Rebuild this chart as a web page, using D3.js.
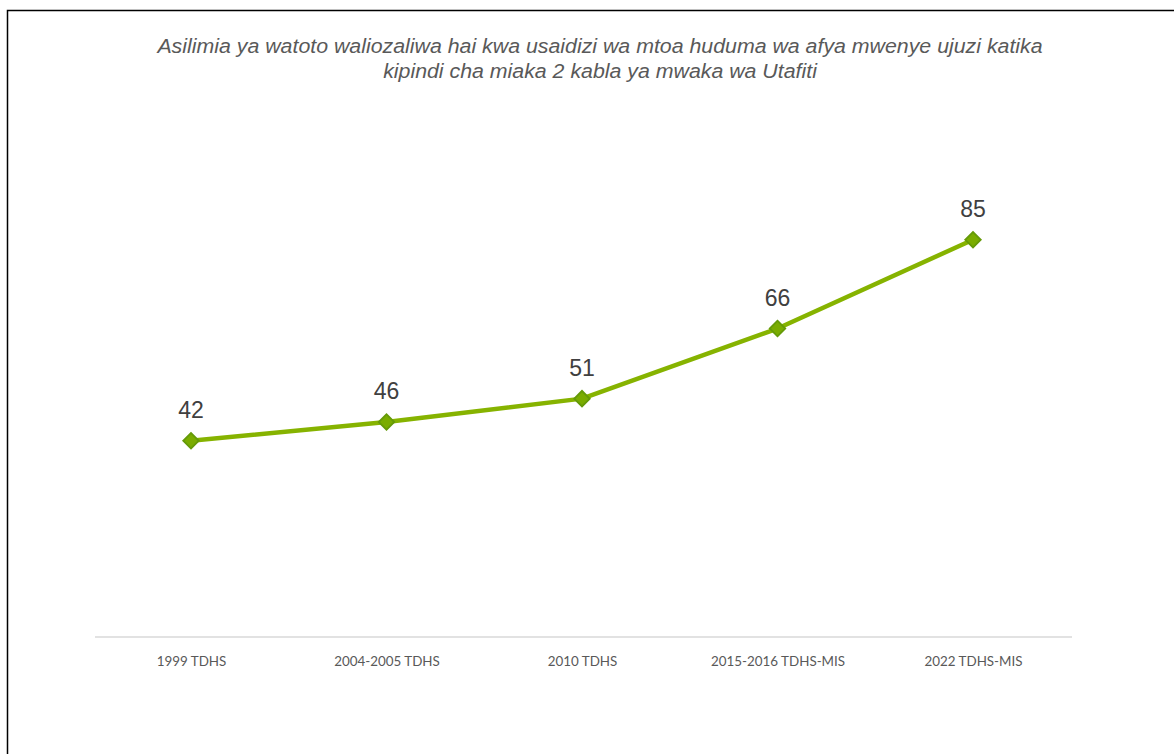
<!DOCTYPE html>
<html><head><meta charset="utf-8">
<script src="https://cdn.jsdelivr.net/npm/d3@7"></script>
<style>body{margin:0;background:#fff}svg{display:block}</style>
</head><body>
<svg id="c" width="1174" height="754"></svg>
<script>
const categories = ["1999 TDHS","2004-2005 TDHS","2010 TDHS","2015-2016 TDHS-MIS","2022 TDHS-MIS"];
const values = [42,46,51,66,85];
const titleLines = ["Asilimia ya watoto waliozaliwa hai kwa usaidizi wa mtoa huduma wa afya mwenye ujuzi katika","kipindi cha miaka 2 kabla ya mwaka wa Utafiti"];

const svg = d3.select("#c");
svg.append("rect").attr("x",7.5).attr("y",10.5).attr("width",1200).attr("height",800)
  .attr("fill","#fff").attr("stroke","#000").attr("stroke-width",1.5);

const x = d3.scalePoint().domain(categories).range([191,973]);
const y = d3.scaleLinear().domain([0,100]).range([637,169.6]);

svg.append("g").attr("transform","translate(600,0) scale(1.1,1)")
  .selectAll("text").data(titleLines).join("text")
  .attr("x",0).attr("y",(d,i)=>53+i*25).attr("text-anchor","middle")
  .attr("font-family","Liberation Sans, Arial, sans-serif").attr("font-style","italic")
  .attr("font-size",19.4).attr("fill","#595959").text(d=>d);

const axis = d3.axisBottom(x).tickSize(0).tickPadding(19);
const ag = svg.append("g").attr("transform","translate(0,637)").call(axis);
ag.select(".domain").remove();
ag.append("line").attr("x1",95).attr("x2",1072).attr("stroke","#d9d9d9").attr("stroke-width",1.5);
ag.selectAll("text").attr("font-family","Lato, Carlito, sans-serif").attr("font-size",13.4).attr("fill","#595959");

const line = d3.line().x((d,i)=>x(categories[i])).y(d=>y(d));
svg.append("path").datum(values).attr("d",line).attr("fill","none")
  .attr("stroke","#86b300").attr("stroke-width",4.5).attr("stroke-linejoin","round");

const pts = svg.append("g").selectAll("g").data(values).join("g")
  .attr("transform",(d,i)=>`translate(${x(categories[i])},${y(d)})`);
pts.append("path").attr("d",d3.symbol(d3.symbolSquare,120)()).attr("transform","rotate(45)")
  .attr("fill","#7aac00").attr("stroke","#659a08").attr("stroke-width",1.8);

svg.append("g").selectAll("text").data(values).join("text")
  .attr("x",(d,i)=>x(categories[i])).attr("y",d=>y(d)-23).attr("text-anchor","middle")
  .attr("font-family","Liberation Sans, Arial, sans-serif").attr("font-size",23).attr("fill","#404040")
  .text(d=>d);
</script>
</body></html>
